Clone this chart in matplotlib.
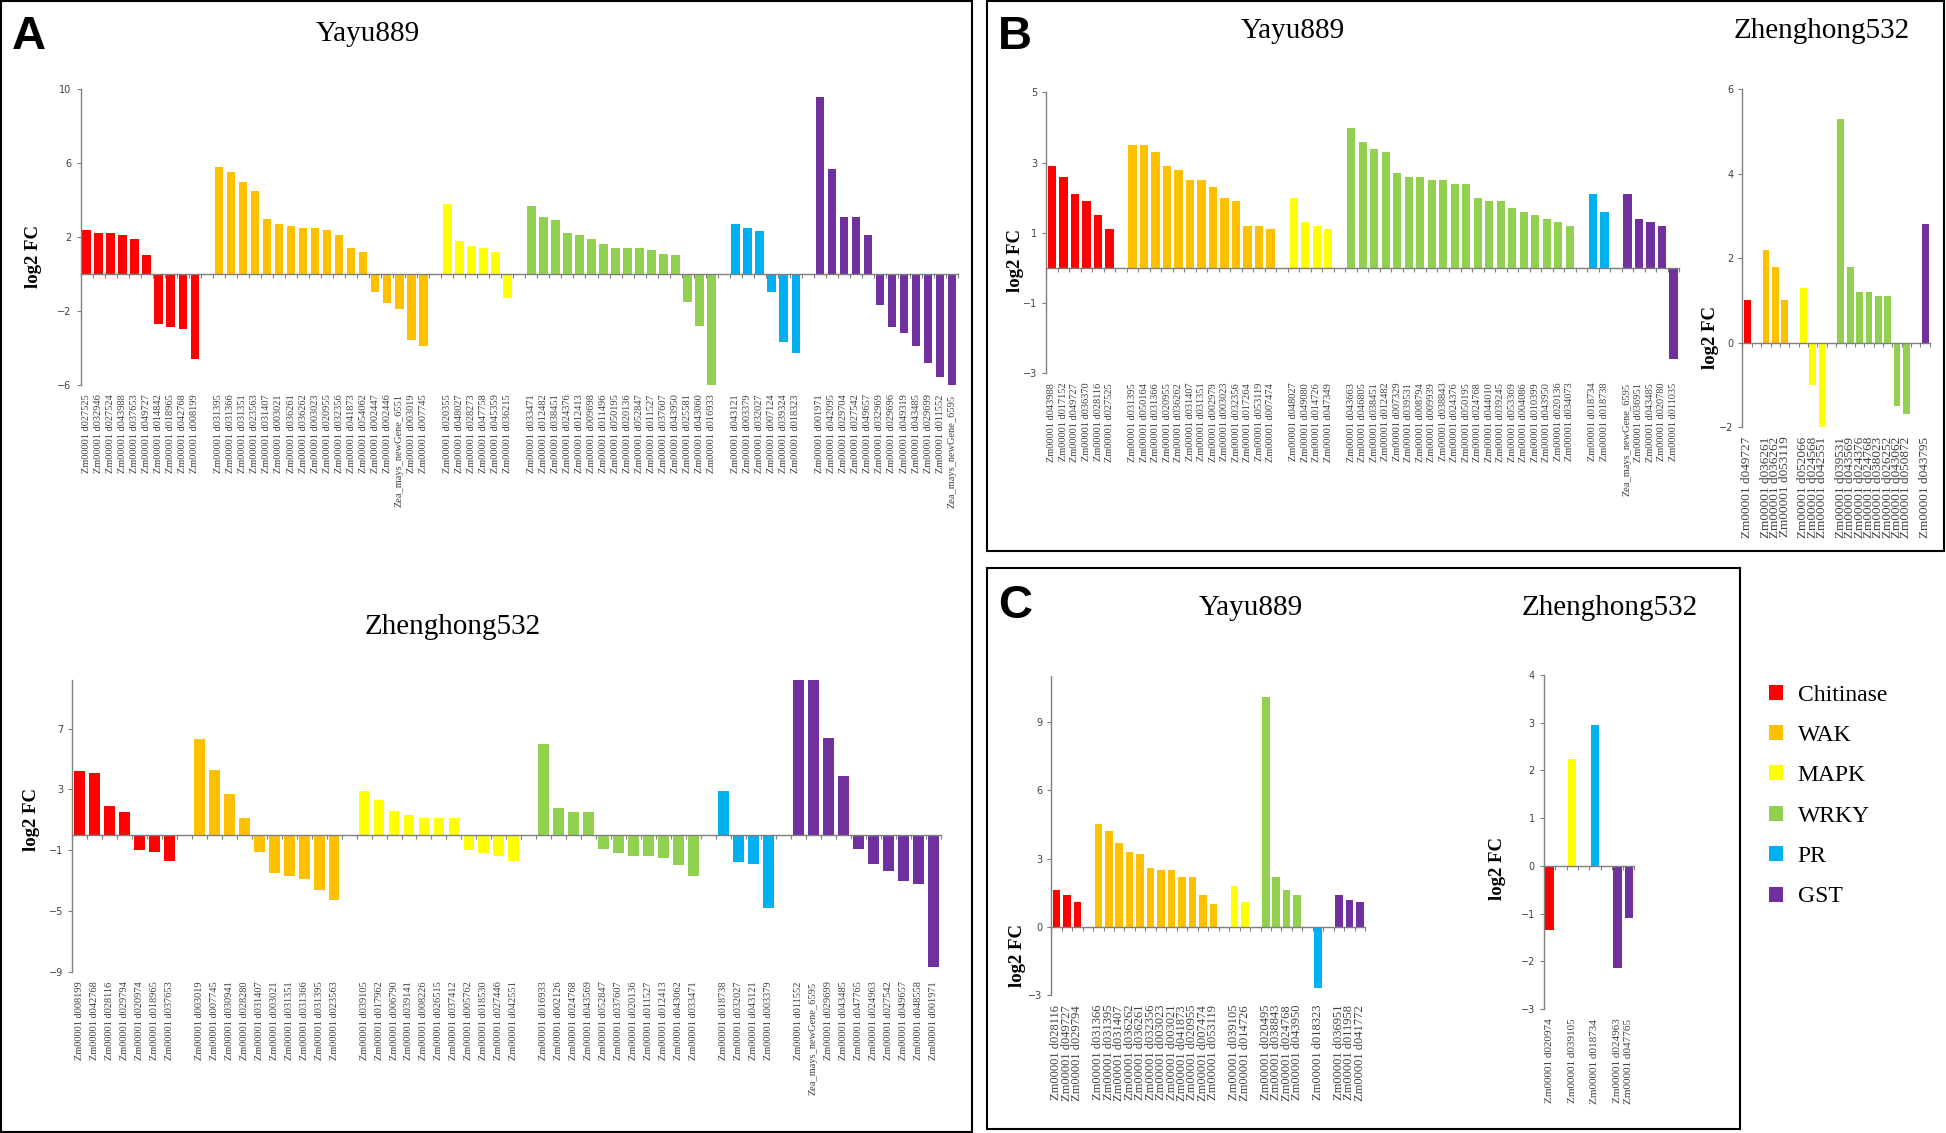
import numpy as np
import matplotlib.pyplot as plt
from matplotlib.patches import Rectangle, Patch
from matplotlib.transforms import blended_transform_factory

families = ["Chitinase", "WAK", "MAPK", "WRKY", "PR", "GST"]
colors = ["#FF0000", "#FFC000", "#FFFF00", "#92D050", "#00B0F0", "#7030A0"]

# ---- A, Yayu889 ----
a_yayu_n = [10, 18, 6, 16, 6, 12]
a_yayu_genes = [
    "d027525", "d032946", "d027524", "d043988", "d037653", "d049727", "d014842", "d018965", "d042768", "d008199",
    "d031395", "d031366", "d031351", "d023563", "d031407", "d003021", "d036261", "d036262", "d003023", "d020955",
    "d032356", "d041873", "d054062", "d002447", "d002446", "Zea_mays_newGene_6551", "d003019", "d007745",
    "d020355", "d048027", "d028273", "d047758", "d045359", "d036215",
    "d033471", "d012482", "d038451", "d024376", "d012413", "d009698", "d011496", "d050195", "d020136", "d052847",
    "d011527", "d037607", "d043950", "d025581", "d043060", "d016933",
    "d043121", "d003379", "d032027", "d007124", "d039324", "d018323",
    "d001971", "d042095", "d029704", "d027542", "d049657", "d032969", "d029696", "d049319", "d043485", "d029699",
    "d011552", "Zea_mays_newGene_6595"]
a_yayu_fc = [
    2.4, 2.2, 2.2, 2.1, 1.9, 1.0, -2.7, -2.9, -3.0, -4.6,
    5.8, 5.5, 5.0, 4.5, 3.0, 2.7, 2.6, 2.5, 2.5, 2.4, 2.1, 1.4, 1.2, -1.0, -1.6, -1.9, -3.6, -3.9,
    3.8, 1.8, 1.5, 1.4, 1.2, -1.3,
    3.7, 3.1, 2.9, 2.2, 2.1, 1.9, 1.6, 1.4, 1.4, 1.4, 1.3, 1.1, 1.0, -1.5, -2.8, -6.1,
    2.7, 2.5, 2.3, -1.0, -3.7, -4.3,
    9.6, 5.7, 3.1, 3.1, 2.1, -1.7, -2.9, -3.2, -3.9, -4.8, -5.6, -6.1]

# ---- A, Zhenghong532 ----
a_zheng_n = [7, 10, 11, 11, 4, 10]
a_zheng_genes = [
    "d008199", "d042768", "d028116", "d029794", "d020974", "d018965", "d037653",
    "d003019", "d007745", "d030941", "d028280", "d031407", "d003021", "d031351", "d031366", "d031395", "d023563",
    "d039105", "d017962", "d006790", "d039141", "d008226", "d026515", "d037412", "d005762", "d018530", "d027446",
    "d042551",
    "d016933", "d002126", "d024768", "d043569", "d052847", "d037607", "d020136", "d011527", "d012413", "d043062",
    "d033471",
    "d018738", "d032027", "d043121", "d003379",
    "d011552", "Zea_mays_newGene_6595", "d029699", "d043485", "d047765", "d024963", "d027542", "d049657",
    "d048558", "d001971"]
a_zheng_fc = [
    4.2, 4.1, 1.9, 1.5, -1.0, -1.1, -1.7,
    6.3, 4.3, 2.7, 1.1, -1.1, -2.5, -2.7, -2.9, -3.6, -4.3,
    2.9, 2.3, 1.6, 1.3, 1.1, 1.1, 1.1, -1.0, -1.2, -1.4, -1.7,
    6.0, 1.8, 1.5, 1.5, -0.9, -1.2, -1.4, -1.4, -1.5, -2.0, -2.7,
    2.9, -1.8, -1.9, -4.8,
    11.0, 11.0, 6.4, 3.9, -0.9, -1.9, -2.4, -3.0, -3.2, -8.7]

# ---- B, Yayu889 ----
b_yayu_n = [6, 13, 4, 20, 2, 5]
b_yayu_genes = [
    "d043988", "d017152", "d049727", "d036370", "d028116", "d027525",
    "d031395", "d050164", "d031366", "d020955", "d036262", "d031407", "d031351", "d002979", "d003023", "d032356",
    "d017264", "d053119", "d007474",
    "d048027", "d049080", "d014726", "d047349",
    "d043663", "d046805", "d038451", "d012482", "d007329", "d039531", "d008794", "d009939", "d038843", "d024376",
    "d050195", "d024768", "d044010", "d039245", "d053369", "d004086", "d010399", "d043950", "d020136", "d034073",
    "d018734", "d018738",
    "Zea_mays_newGene_6595", "d036951", "d043485", "d020780", "d011035"]
b_yayu_fc = [
    2.9, 2.6, 2.1, 1.9, 1.5, 1.1,
    3.5, 3.5, 3.3, 2.9, 2.8, 2.5, 2.5, 2.3, 2.0, 1.9, 1.2, 1.2, 1.1,
    2.0, 1.3, 1.2, 1.1,
    4.0, 3.6, 3.4, 3.3, 2.7, 2.6, 2.6, 2.5, 2.5, 2.4, 2.4, 2.0, 1.9, 1.9, 1.7, 1.6, 1.5, 1.4, 1.3, 1.2,
    2.1, 1.6,
    2.1, 1.4, 1.3, 1.2, -2.6]

# ---- B, Zhenghong532 ----
b_zheng_n = [1, 3, 3, 8, 0, 1]
b_zheng_genes = [
    "d049727",
    "d036261", "d036262", "d053119",
    "d052066", "d024568", "d042551",
    "d039531", "d043569", "d024376", "d024768", "d038023", "d026252", "d043062", "d050872",
    "d043795"]
b_zheng_fc = [1.0, 2.2, 1.8, 1.0, 1.3, -1.0, -2.0, 5.3, 1.8, 1.2, 1.2, 1.1, 1.1, -1.5, -1.7, 2.8]

# ---- C, Yayu889 ----
c_yayu_n = [3, 12, 2, 4, 1, 3]
c_yayu_genes = [
    "d028116", "d049727", "d029794",
    "d031366", "d031395", "d031407", "d036262", "d036261", "d032356", "d003023", "d003021", "d041873", "d020955",
    "d007474", "d053119",
    "d039105", "d014726",
    "d020495", "d038843", "d024768", "d043950",
    "d018323",
    "d036951", "d011958", "d041772"]
c_yayu_fc = [
    1.6, 1.4, 1.1,
    4.5, 4.2, 3.7, 3.3, 3.2, 2.6, 2.5, 2.5, 2.2, 2.2, 1.4, 1.0,
    1.8, 1.1,
    10.1, 2.2, 1.6, 1.4,
    -2.7,
    1.4, 1.2, 1.1]

# ---- C, Zhenghong532 ----
c_zheng_n = [1, 0, 1, 0, 1, 2]
c_zheng_genes = ["d020974", "d039105", "d018734", "d024963", "d047765"]
c_zheng_fc = [-1.35, 2.25, 2.95, -2.15, -1.1]

SERIF = "Liberation Serif"
SANS = "Liberation Sans"
W, H = 1568, 913  # layout measured on the 1568x913 preview


def box(l, t, r, b):
    return [l / W, 1 - b / H, (r - l) / W, (b - t) / H]


def label(g):
    return g if g.startswith("Zea") else "Zm00001 " + g


fig = plt.figure(figsize=(19.46, 11.33), dpi=100)


def draw(rect, genes, fc, counts, ylim, yticks, fs=7.5, yl=None):
    ax = fig.add_axes(box(*rect))
    xs, cols = [], []
    pos = 0
    for n, c in zip(counts, colors):
        if n == 0:
            continue
        for i in range(n):
            xs.append(pos)
            cols.append(c)
            pos += 1
        pos += 1
    nslots = pos - 1
    ax.bar(xs, fc, width=0.72, color=cols, zorder=2)
    ax.set_xlim(-0.5, nslots - 0.5)
    ax.set_ylim(*ylim)
    ax.set_yticks(yticks)
    ax.set_xticks(np.arange(-0.5, nslots, 1.0))
    ax.set_xticklabels([])
    for s in ["top", "right"]:
        ax.spines[s].set_visible(False)
    ax.spines["bottom"].set_position(("data", 0))
    ax.spines["bottom"].set_zorder(3)
    for s in ["left", "bottom"]:
        ax.spines[s].set_color("#7f7f7f")
        ax.spines[s].set_linewidth(1.0)
    ax.tick_params(axis="x", length=3, color="#7f7f7f", direction="out")
    ax.tick_params(axis="y", length=3, color="#7f7f7f", labelsize=7, labelcolor="#404040")
    ax.patch.set_alpha(0)
    tr = blended_transform_factory(ax.transData, ax.transAxes)
    for x, g in zip(xs, genes):
        ax.annotate(label(g), (x, 0), xycoords=tr, xytext=(0, -7), textcoords="offset points",
                    rotation=90, ha="center", va="top", fontsize=fs, family=SERIF, color="#404040")
    if yl is not None:
        fig.text(yl[0] / W, 1 - yl[1] / H, "log2 FC", rotation=90, ha="center", va="center",
                 fontsize=13.5, family=SERIF, fontweight="bold")
    return ax


draw((65, 72, 772, 310), a_yayu_genes, a_yayu_fc, a_yayu_n, (-6, 10), [-6, -2, 2, 6, 10], yl=(27, 207))
draw((58, 548, 758, 783), a_zheng_genes, a_zheng_fc, a_zheng_n, (-9, 10.2), [-9, -5, -1, 3, 7], yl=(25, 660))
draw((843, 74.5, 1353, 300.6), b_yayu_genes, b_yayu_fc, b_yayu_n, (-3, 5), [-3, -1, 1, 3, 5], yl=(818, 210))
draw((1404, 72, 1555, 344), b_zheng_genes, b_zheng_fc, b_zheng_n, (-2, 6), [-2, 0, 2, 4, 6], fs=9.5,
     yl=(1378, 272))
draw((847, 545, 1100, 802), c_yayu_genes, c_yayu_fc, c_yayu_n, (-3, 11), [-3, 0, 3, 6, 9], fs=9,
     yl=(820, 770))
draw((1244, 544, 1317, 813), c_zheng_genes, c_zheng_fc, c_zheng_n, (-3, 4), [-3, -2, -1, 0, 1, 2, 3, 4],
     fs=8, yl=(1207, 700))

# titles
for x, y, t in [(296, 27, "Yayu889"), (365, 505, "Zhenghong532"), (1042, 25, "Yayu889"),
                (1468, 25, "Zhenghong532"), (1008, 490, "Yayu889"), (1297, 490, "Zhenghong532")]:
    fig.text(x / W, 1 - y / H, t, ha="center", va="center", fontsize=21, family=SERIF)

# panel letters
for x, y, t in [(23, 30, "A"), (818, 30, "B"), (818, 488, "C")]:
    fig.text(x / W, 1 - y / H, t, ha="center", va="center", fontsize=34, family=SANS, fontweight="bold")

# panel frames
for l, t, r, b in [(1, 1, 783, 912), (795, 1, 1566, 444), (795, 458, 1402, 910)]:
    fig.add_artist(Rectangle((l / W, 1 - b / H), (r - l) / W, (b - t) / H, transform=fig.transFigure,
                             fill=False, lw=1.5, edgecolor="black"))

handles = [Patch(facecolor=c, label=f) for f, c in zip(families, colors)]
fig.legend(handles=handles, loc="upper left", bbox_to_anchor=(1418 / W, 1 - 544 / H), frameon=False,
           prop={"family": SERIF, "size": 17}, handlelength=0.6, handleheight=0.6, labelspacing=0.82,
           handletextpad=0.6, borderaxespad=0)

fig.savefig("out.png", dpi=100)
